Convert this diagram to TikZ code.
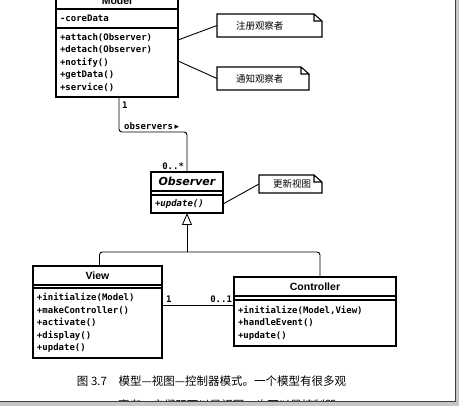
\documentclass[tikz,border=0pt]{standalone}
\usepackage{fontspec}
\setmainfont{Liberation Sans}
\setmonofont{DejaVu Sans Mono}
\newfontfamily\cjk{Noto Sans CJK SC}
\newfontfamily\obsfont{DejaVu Sans}
\usetikzlibrary{arrows.meta,positioning,calc}
% note outline with folded corner
\newcommand{\dogear}[1]{%
  \draw[line width=1.1pt] (#1.south west) -- (#1.north west)
    -- ([xshift=-8pt]#1.north east) -- ([yshift=-7pt]#1.north east)
    -- (#1.south east) -- cycle
    ([xshift=-8pt]#1.north east) |- ([yshift=-7pt]#1.north east);}

\begin{document}
\begin{tikzpicture}[x=1pt, y=-1pt, >=Stealth,
  every node/.style = {inner sep=0pt, outer sep=0pt},
  classname/.style = {draw, line width=1.2pt, minimum height=19pt,
                      font=\fontsize{10.5}{12}\selectfont\bfseries},
  gap/.style       = {draw, line width=1.2pt},
  members/.style   = {draw, line width=1.2pt, align=left, inner xsep=3.5pt,
                      font=\ttfamily\bfseries\fontsize{9}{12.4}\selectfont},
  note/.style      = {align=left, inner xsep=19pt,
                      font=\cjk\fontsize{9.5}{11}\selectfont},
  mult/.style      = {font=\ttfamily\bfseries\fontsize{9}{10}\selectfont},
  link/.style      = {line width=0.9pt, rounded corners=3pt},
]
  \useasboundingbox (0,0) rectangle (459,406);

  % Model
  \node[classname, minimum width=122pt, minimum height=17pt] (mtitle)
    at (117,0.5) {Model};
  \node[members, minimum width=122pt, text width=114pt, minimum height=19pt,
        below=0pt of mtitle] (mattr) {-coreData};
  \node[members, minimum width=122pt, text width=114pt, minimum height=69pt,
        below=0pt of mattr] (mmeth)
    {+attach(Observer)\\+detach(Observer)\\+notify()\\+getData()\\+service()};

  % Observer
  \node[classname, minimum width=72pt,
        font=\obsfont\fontsize{11}{12}\selectfont\bfseries\itshape] (otitle)
    at (187,181.5) {Observer};
  \node[gap, minimum width=72pt, minimum height=4pt, below=0pt of otitle] (oattr) {};
  \node[members, minimum width=72pt, text width=64pt, minimum height=18pt,
        below=0pt of oattr] (ometh) {\itshape +update()};

  % View
  \node[classname, minimum width=129pt] (vtitle) at (97.5,275.5) {View};
  \node[gap, minimum width=129pt, minimum height=3pt, below=0pt of vtitle] (vattr) {};
  \node[members, minimum width=129pt, text width=121pt, minimum height=70pt,
        below=0pt of vattr] (vmeth)
    {+initialize(Model)\\+makeController()\\+activate()\\+display()\\+update()};

  % Controller
  \node[classname, minimum width=162pt] (ctitle) at (315,286.5) {Controller};
  \node[gap, minimum width=162pt, minimum height=4pt, below=0pt of ctitle] (cattr) {};
  \node[members, minimum width=162pt, text width=154pt, minimum height=46pt,
        below=0pt of cattr] (cmeth)
    {+initialize(Model,View)\\+handleEvent()\\+update()};

  % notes
  \node[note, text width=67pt, minimum height=23pt] (reg) at (269.5,25.5) {注册观察者};
  \node[note, text width=54pt, minimum height=23pt] (ntf) at (263,78.5) {通知观察者};
  \node[note, inner xsep=14pt, text width=35pt, minimum height=18pt] (upd)
    at (290.5,184) {更新视图};
  \dogear{reg}
  \dogear{ntf}
  \dogear{upd}

  \draw[link] ([yshift=-12pt]mmeth.north east) -- (reg.west);
  \draw[link] ([yshift=-33pt]mmeth.north east) -- (ntf.west);
  \draw[link] (ometh.east) -- (upd.west);

  % association Model -> Observer
  \draw[link] ([xshift=2pt]mmeth.south) --
      node[mult, pos=0.23, right=3pt] {1} ++(0,35)
    -| node[mult, pos=0.24, above=2.5pt] {observers\,{\obsfont ▸}} (otitle.north);
  \node[mult, anchor=south east] (omult) at ([xshift=-3pt,yshift=2pt]otitle.north) {0..*};

  % generalization
  \coordinate (gen) at (187,252);
  \draw[link] ([xshift=2pt]vtitle.north) |- (gen) -| ([xshift=5pt]ctitle.north);
  \draw[line width=0.9pt, -{Triangle[open, width=10pt, length=12pt]}]
    (gen) -- (ometh.south);

  % association View -- Controller
  \path ([yshift=-17pt]vmeth.north east) coordinate (vc);
  \draw[link] (vc) --
      node[mult, pos=0, anchor=south west, xshift=4pt, yshift=2pt] {1}
      node[mult, pos=1, anchor=south east, xshift=-2pt, yshift=2pt] {0..1}
    (vc -| cmeth.west);

  % caption
  \node[font=\cjk\fontsize{11.5}{14}\selectfont, anchor=west] (cap1) at (77,381)
    {图 3.7　模型—视图—控制器模式。一个模型有很多观};
  \node[font=\cjk\fontsize{11.5}{14}\selectfont, anchor=west] (cap2) at (118,405)
    {察者，它们既可以是视图，也可以是控制器。};

  % page shadow
  \fill[gray!45] (455,0) rectangle (459,406);
  \fill[gray!45] (0,402) rectangle (459,406);
  \draw[black!75, line width=1pt] (455,0) -- (455,402) -- (0,402);
\end{tikzpicture}
\end{document}
